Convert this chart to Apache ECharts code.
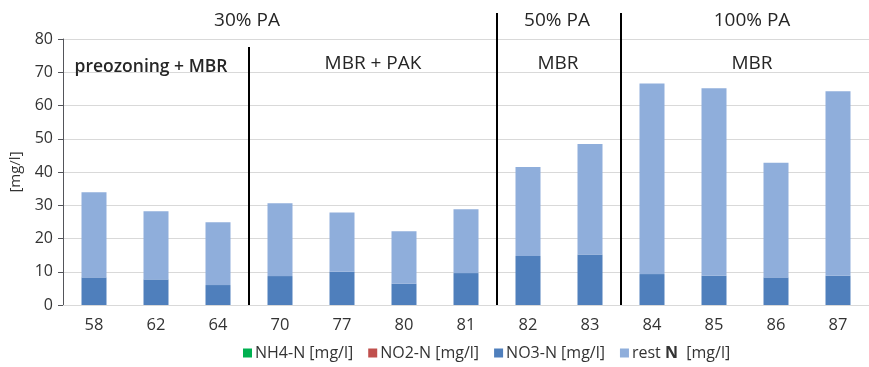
<!DOCTYPE html>
<html><head><meta charset="utf-8">
<script src="https://cdn.jsdelivr.net/npm/echarts@6/dist/echarts.min.js"></script>
<style>html,body{margin:0;padding:0;background:#fff}#c{width:869px;height:367px}</style>
</head><body><div id="c"></div>
<script>
const categories = ['58','62','64','70','77','80','81','82','83','84','85','86','87'];
const nh4 = [0,0,0,0,0,0,0,0,0,0,0,0,0];
const no2 = [0,0,0,0,0,0,0,0,0,0,0,0,0];
const no3 = [8.3,7.7,6.0,8.7,10.0,6.4,9.6,14.7,15.2,9.3,8.8,8.3,8.8];
const restN = [25.6,20.5,18.9,21.9,17.8,15.8,19.2,26.8,33.2,57.3,56.4,34.5,55.5];
const yTicks = [0,10,20,30,40,50,60,70,80];
// section boundaries (index of category after which a separator is drawn)
const separators = [3,7,9];
const topLabels = [{text:'30% PA', at:3.0}, {text:'50% PA', at:8.0}, {text:'100% PA', at:11.0}];
const subLabels = [{text:'preozoning + MBR', at:1.0}, {text:'MBR + PAK', at:5.0}, {text:'MBR', at:8.0}, {text:'MBR', at:11.0}];

const FONT = '"Open Sans", "Liberation Sans", sans-serif';
const TXT = '#333333';
const chart = echarts.init(document.getElementById('c'));
const mk = (name, data, color) => ({name, type:'bar', stack:'n', data, barWidth:25, itemStyle:{color}, xAxisIndex:0, yAxisIndex:0});
chart.setOption({
  animation:false,
  grid:{left:62, right:0, top:39, bottom:62},
  legend:{bottom:1, left:238, itemWidth:9, itemHeight:9, itemGap:15, icon:'rect',
    textStyle:{fontFamily:FONT, fontSize:16, color:TXT, padding:[0,0,0,-2], rich:{b:{fontWeight:'bold', fontFamily:FONT, fontSize:16, color:TXT}}},
    formatter: n => n === 'rest N [mg/l]' ? 'rest {b|N}  [mg/l]' : n,
    data:['NH4-N [mg/l]','NO2-N [mg/l]','NO3-N [mg/l]','rest N [mg/l]']},
  xAxis:[{type:'category', data:categories, axisTick:{show:false},
    axisLine:{lineStyle:{color:'#d9d9d9'}},
    axisLabel:{fontFamily:FONT, fontSize:16.5, color:TXT, margin:12}},
    {type:'value', min:0, max:categories.length, show:false}],
  yAxis:{type:'value', min:0, max:80, interval:10, name:'[mg/l]', nameLocation:'middle', nameGap:40,
    nameTextStyle:{fontFamily:FONT, fontSize:15, color:TXT},
    axisLabel:{fontFamily:FONT, fontSize:16, color:TXT, margin:10},
    splitLine:{lineStyle:{color:'#d9d9d9'}}},
  series:[mk('NH4-N [mg/l]', nh4, '#00b050'), mk('NO2-N [mg/l]', no2, '#c0504d'),
          mk('NO3-N [mg/l]', no3, '#4f7fbc'), mk('rest N [mg/l]', restN, '#8faedb')]
});
const g = [];
separators.forEach((s,i) => {
  const p0 = chart.convertToPixel({xAxisIndex:1, yAxisIndex:0}, [s, 0]);
  const top = i === 0 ? 47 : 13;
  g.push({type:'line', shape:{x1:p0[0], y1:top, x2:p0[0], y2:p0[1]}, style:{stroke:'#000', lineWidth:2}, z:10});
});
topLabels.forEach(l => {
  const p = chart.convertToPixel({xAxisIndex:1, yAxisIndex:0}, [l.at, 0]);
  let x = p[0];
  if (l.text === '30% PA') x = 247;
  if (l.text === '50% PA') x = 557;
  if (l.text === '100% PA') x = 752;
  g.push({type:'text', x, y:21, style:{text:l.text, fontFamily:FONT, fontSize:19, fill:'#262626', textAlign:'center', textVerticalAlign:'middle'}});
});
subLabels.forEach(l => {
  const p = chart.convertToPixel({xAxisIndex:1, yAxisIndex:0}, [l.at, 0]);
  let x = p[0], y = 64, fs = 19, fw = 'normal';
  if (l.text === 'preozoning + MBR') { x = 151; y = 67; fs = 17.5; fw = 600; }
  if (l.text === 'MBR + PAK') x = 373;
  if (l.text === 'MBR' && l.at === 8) x = 558;
  if (l.text === 'MBR' && l.at === 11) x = 752;
  g.push({type:'text', x, y, style:{text:l.text, fontFamily:FONT, fontSize:fs, fontWeight:fw, fill:'#262626', textAlign:'center', textVerticalAlign:'middle'}});
});
chart.setOption({graphic:g});
</script></body></html>
